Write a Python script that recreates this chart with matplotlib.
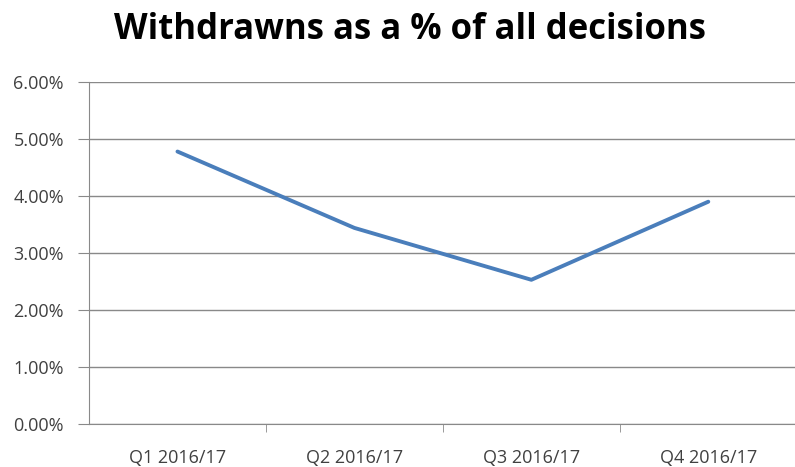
import numpy as np
import matplotlib.pyplot as plt
from matplotlib.ticker import PercentFormatter, FixedLocator

quarters = ['Q1 2016/17', 'Q2 2016/17', 'Q3 2016/17', 'Q4 2016/17']
withdrawn_pct = [4.78, 3.44, 2.53, 3.90]
y_ticks = [0, 1, 2, 3, 4, 5, 6]

plt.rcParams['font.family'] = ['Open Sans', 'DejaVu Sans']

fig = plt.figure(figsize=(7.95, 4.67), dpi=100)
ax = fig.add_axes([89/795, 43/467, 706/795, 342/467])

x = np.arange(len(quarters))
ax.plot(x, withdrawn_pct, color='#4a7ebb', linewidth=2.8, solid_capstyle='round')

ax.set_ylim(0, 6)
ax.set_xlim(-0.5, 3.49)
ax.set_yticks(y_ticks)
ax.yaxis.set_major_formatter(PercentFormatter(decimals=2))
ax.grid(axis='y', color='#898989', linewidth=1.0)
ax.set_axisbelow(True)

ax.set_xticks(x)
ax.set_xticklabels(quarters)
ax.xaxis.set_minor_locator(FixedLocator([0.5, 1.5, 2.5]))
ax.tick_params(axis='x', which='major', length=0, pad=18, labelsize=13, labelcolor='#404040')
ax.tick_params(axis='x', which='minor', length=6, color='#898989')
ax.tick_params(axis='y', length=8, color='#898989', labelsize=13, labelcolor='#404040', pad=10)

for s in ['top', 'right']:
    ax.spines[s].set_visible(False)
for s in ['left', 'bottom']:
    ax.spines[s].set_color('#898989')

fig.text(0.516, 0.935, 'Withdrawns as a % of all decisions', ha='center', va='center',
         fontsize=25, fontweight='bold', color='black')

fig.savefig('out.png', dpi=100)
